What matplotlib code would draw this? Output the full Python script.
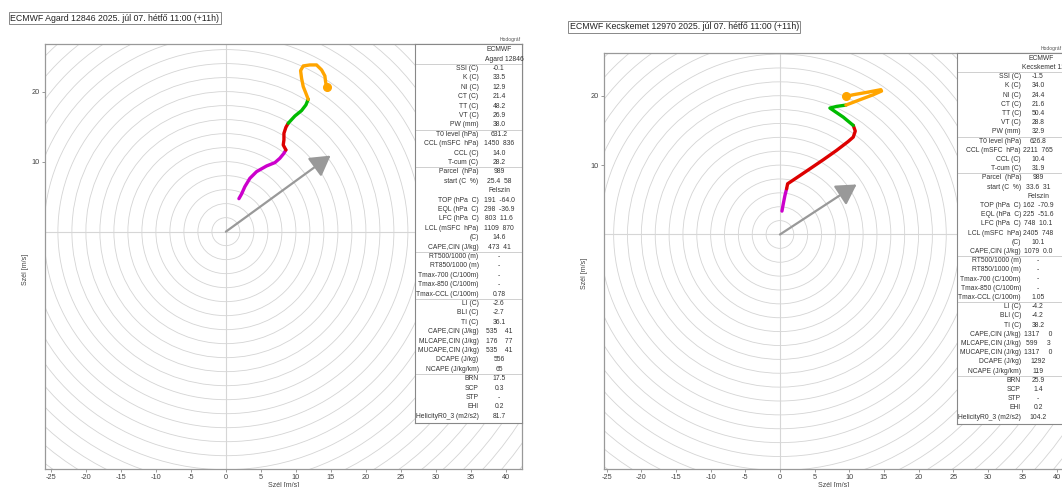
import numpy as np
import matplotlib
matplotlib.use('Agg')
from matplotlib import pyplot as plt
from matplotlib.patches import Circle

plt.rcParams['font.family'] = ['Liberation Sans', 'DejaVu Sans']
plt.rcParams['axes.unicode_minus'] = False

W, H = 1062, 487

# --- adatok (kiolvasva a képről) ---
titles = ['ECMWF Agard 12846 2025. júl 07. hétfő 11:00 (+11h)',
          'ECMWF Kecskemet 12970 2025. júl 07. hétfő 11:00 (+11h)']

x_ticks = [-25, -20, -15, -10, -5, 0, 5, 10, 15, 20, 25, 30, 35, 40]
y_ticks = [10, 20]
seg_colors = ['#cc00cc', '#dd0000', '#00bb00', '#ffa500']

# hodográf pontok (u, v) m/s
agard_u = [1.86, 2.24, 2.71, 3.43, 4.38, 5.81, 7.0, 7.71, 8.29, 8.57,
           8.19, 8.29, 8.29, 8.57, 8.9,
           9.86, 10.81, 11.43, 11.76,
           11.43, 11.05, 10.81, 10.67, 11.05, 12.0, 12.95, 13.67, 14.14, 14.24, 14.38]
agard_v = [4.71, 5.38, 6.43, 7.62, 8.57, 9.38, 9.86, 10.48, 11.19, 11.67,
           12.38, 13.1, 14.05, 14.9, 15.48,
           16.52, 17.29, 18.1, 18.9,
           19.76, 20.71, 21.9, 23.0, 23.67, 23.81, 23.81, 23.1, 22.24, 21.43, 20.62]
agard_seg = [0, 9, 14, 18, 29]
agard_storm = (14.95, 10.86)

kecs_u = [0.29, 0.48, 0.72, 0.96,
          1.11, 2.4, 4.33, 6.25, 8.17, 9.86, 10.58, 10.87, 10.58,
          9.13, 7.21, 8.17, 9.52,
          11.54, 13.46, 14.66, 14.57, 12.5, 10.58, 9.52]
kecs_v = [3.37, 4.42, 5.63, 6.59,
          7.31, 8.17, 9.47, 10.77, 12.12, 13.41, 14.04, 14.9, 15.72,
          16.92, 18.22, 18.46, 18.65,
          19.42, 20.14, 20.67, 20.87, 20.48, 20.14, 19.9]
kecs_seg = [0, 3, 12, 16, 23]
kecs_storm = (11.06, 7.21)

labels = ['', '', 'SSI (C)', 'K (C)', 'NI (C)', 'CT (C)', 'TT (C)', 'VT (C)', 'PW (mm)',
          'T0 level (hPa)', 'CCL (mSFC  hPa)', 'CCL (C)', 'T-cum (C)',
          'Parcel  (hPa)', 'start (C  %)', '', 'TOP (hPa  C)', 'EQL (hPa  C)',
          'LFC (hPa  C)', 'LCL (mSFC  hPa)', '(C)', 'CAPE,CIN (J/kg)',
          'RT500/1000 (m)', 'RT850/1000 (m)', 'Tmax-700 (C/100m)', 'Tmax-850 (C/100m)',
          'Tmax-CCL (C/100m)',
          'LI (C)', 'BLI (C)', 'TI (C)', 'CAPE,CIN (J/kg)', 'MLCAPE,CIN (J/kg)',
          'MUCAPE,CIN (J/kg)', 'DCAPE (J/kg)', 'NCAPE (J/kg/km)',
          'BRN', 'SCP', 'STP', 'EHI', 'HelicityR0_3 (m2/s2)']
agard_vals = ['ECMWF', 'Agard 12846', '-0.1', '33.5', '12.9', '21.4', '48.2', '26.9', '38.0',
              '631.2', '1450  836', '14.0', '28.2',
              '989', '25.4  58', 'Felszín', '191  -64.0', '298  -36.9', '803  11.6',
              '1109  870', '14.6', '473  41',
              '-', '-', '-', '-', '0.78',
              '-2.6', '-2.7', '36.1', '535    41', '176    77', '535    41', '556', '65',
              '17.5', '0.3', '-', '0.2', '81.7']
kecs_vals = ['ECMWF', 'Kecskemet 12970', '-1.5', '34.0', '24.4', '21.6', '50.4', '28.8', '32.9',
             '626.8', '2211  765', '10.4', '31.9',
             '989', '33.6  31', 'Felszín', '162  -70.9', '225  -51.6', '748  10.1',
             '2405  748', '10.1', '1079  0.0',
             '-', '-', '-', '-', '1.05',
             '-4.2', '-4.2', '38.2', '1317     0', '599     3', '1317     0', '1292', '119',
             '25.9', '1.4', '-', '0.2', '104.2']
group_ends = [1, 8, 12, 21, 26, 34]


def rect(x0, y0, x1, y1):
    return [x0 / W, 1 - y1 / H, (x1 - x0) / W, (y1 - y0) / H]


fig = plt.figure(figsize=(W / 100, H / 100), dpi=100)


def panel(box, xlim, ylim, title_xy, title, u, v, seg, storm,
          tbox, rh, lab_x, val_x, head_x, vals, ylab_x):
    ax = fig.add_axes(rect(*box))
    ax.set_xlim(*xlim)
    ax.set_ylim(*ylim)
    for r in np.arange(2, 62, 2):
        ax.add_patch(Circle((0, 0), r, fill=False, ec='#d4d4d4', lw=0.6, zorder=1))
    ax.axhline(0, color='#d6d6d6', lw=0.8, zorder=1)
    ax.axvline(0, color='#d6d6d6', lw=0.8, zorder=1)

    ax.annotate('', xy=storm, xytext=(0, 0),
                arrowprops=dict(arrowstyle='-|>,head_length=0.55,head_width=0.32',
                                color='#999999', lw=1.6, mutation_scale=22,
                                shrinkA=0, shrinkB=0), zorder=3)

    for i, c in enumerate(seg_colors):
        a, b = seg[i], seg[i + 1]
        ax.plot(u[a:b + 1], v[a:b + 1], color=c, lw=2.4, solid_capstyle='round',
                solid_joinstyle='round', zorder=4)
    ax.plot(u[-1], v[-1], 'o', color='#ffa500', ms=5.5, zorder=5)

    ax.set_xticks(x_ticks)
    ax.set_yticks(y_ticks)
    ax.tick_params(labelsize=5.3, colors='#444444', length=2.5, width=0.6, pad=1.2)
    ax.tick_params(color='#888888')
    for s in ax.spines.values():
        s.set_color('#999999')
        s.set_linewidth(0.9)
    ax.set_xlabel('Szél [m/s]', fontsize=5.0, color='#444444', labelpad=0.3)
    ax.set_ylabel('Szél [m/s]', fontsize=5.0, color='#444444')
    ax.yaxis.set_label_coords((ylab_x - box[0]) / (box[2] - box[0]), 0.47)

    fig.text(title_xy[0] / W, 1 - title_xy[1] / H, title, fontsize=6.3,
             color='#222222', va='center', ha='left',
             bbox=dict(boxstyle='square,pad=0.15', fc='white', ec='#888888', lw=0.7))
    fig.text(box[2] / W - 0.001, 1 - (box[1] - 4) / H, 'Hodográf', fontsize=3.6,
             color='#555555', ha='right', va='center')

    # táblázat
    tx0, ty0, tx1 = tbox
    n = len(labels)
    ty1 = ty0 + n * rh + 3
    tax = fig.add_axes(rect(tx0, ty0, tx1, ty1))
    tax.set_xlim(0, tx1 - tx0)
    tax.set_ylim(n * rh + 3, 0)
    tax.set_xticks([])
    tax.set_yticks([])
    tax.set_facecolor('white')
    for s in tax.spines.values():
        s.set_color('#888888')
        s.set_linewidth(0.8)
    for i, (lab, val) in enumerate(zip(labels, vals)):
        y = 1 + (i + 0.5) * rh
        if lab:
            tax.text(lab_x, y, lab, fontsize=4.9, color='#333333', ha='right', va='center')
        if i == 0:
            tax.text(84.5, y, val, fontsize=4.9, color='#333333', ha='center', va='center')
        elif i == 1:
            tax.text(head_x, y, val, fontsize=4.9, color='#333333', ha='left', va='center')
        else:
            tax.text(val_x, y, val, fontsize=4.9, color='#333333', ha='center', va='center')
    for g in group_ends:
        tax.axhline(1 + (g + 1) * rh, color='#c8c8c8', lw=0.6)
    return ax


panel((45.3, 44, 522, 469), (-25.8, 42.3), (-33.9, 26.8), (10.5, 18.2), titles[0],
      agard_u, agard_v, agard_seg, agard_storm,
      (415, 44, 522), 9.4, 63.5, 84, 70, agard_vals, 29.3)

panel((604.3, 52.7, 1063, 469), (-25.35, 40.85), (-33.8, 26.2), (569.5, 26.7), titles[1],
      kecs_u, kecs_v, kecs_seg, kecs_storm,
      (957, 52.7, 1063), 9.2, 64, 81, 65, kecs_vals, 588.3)

fig.savefig('out.png', dpi=100)
